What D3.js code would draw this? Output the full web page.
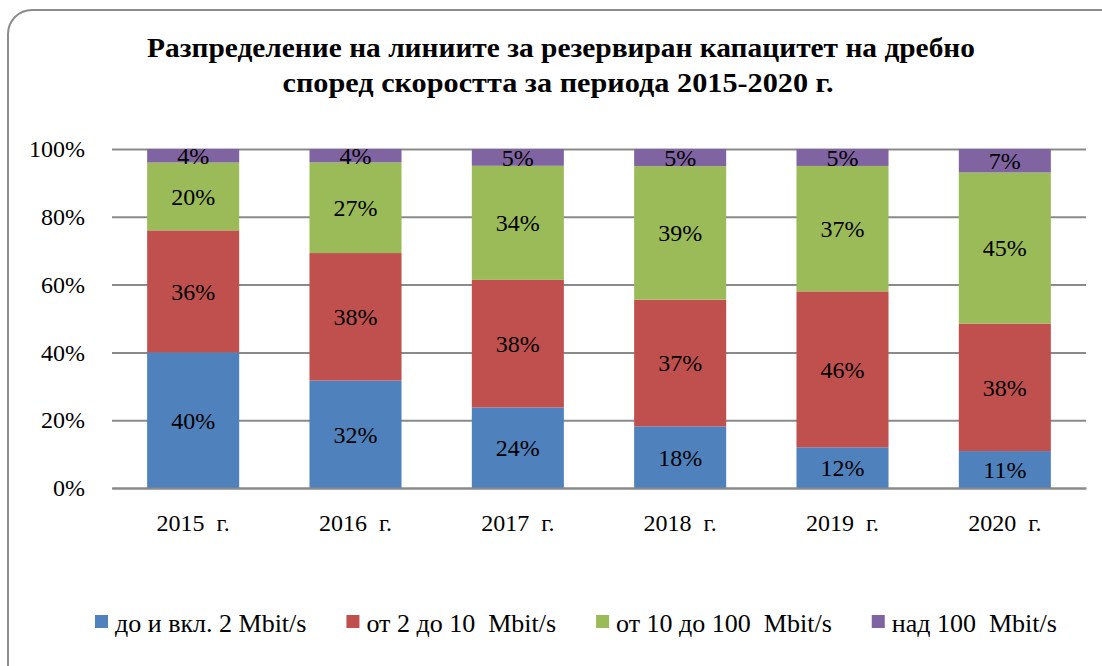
<html>
  <head>
    <script src="https://d3js.org/d3.v7.min.js"></script>
    <style>
      body { margin: 0; background: #fff; }
      text { font-family: "Liberation Serif", "Times New Roman", serif; fill: #000; }
      .gridlines line { stroke: #8a8a8a; stroke-width: 2; }
      .gridlines .domain { stroke: none; }
      .title { font-size: 28px; font-weight: bold; text-anchor: middle; }
    </style>
  </head>
  <body>
    <svg id="chart" width="1102" height="666"></svg>
    <script>
      // data (percent labels)
      const years = ["2015  г.", "2016  г.", "2017  г.", "2018  г.", "2019  г.", "2020  г."];
      const seriesNames = ["до и вкл. 2 Mbit/s", "от 2 до 10  Mbit/s", "от 10 до 100  Mbit/s", "над 100  Mbit/s"];
      const upTo2 = [40, 32, 24, 18, 12, 11];
      const from2to10 = [36, 38, 38, 37, 46, 38];
      const from10to100 = [20, 27, 34, 39, 37, 45];
      const over100 = [4, 4, 5, 5, 5, 7];
      const yTicks = [0, 0.2, 0.4, 0.6, 0.8, 1];
      const colors = ["#4f81bd", "#c0504d", "#9bbb59", "#8064a2"];

      const svg = d3.select("svg#chart");
      const margin = {top: 149, right: 16, bottom: 178, left: 112};
      const width = +svg.attr("width");
      const height = +svg.attr("height");
      const chartWidth = width - margin.left - margin.right;
      const chartHeight = height - margin.top - margin.bottom;

      // outer frame
      svg.append("rect")
        .attr("x", 8).attr("y", 10)
        .attr("width", 1120).attr("height", 690)
        .attr("rx", 24)
        .attr("fill", "none")
        .attr("stroke", "#8c8c8c")
        .attr("stroke-width", 2);

      // title
      const title = svg.append("text").attr("class", "title");
      title.append("tspan").attr("x", 561).attr("y", 57)
        .attr("textLength", 828).attr("lengthAdjust", "spacingAndGlyphs")
        .text("Разпределение на линиите за резервиран капацитет на дребно");
      title.append("tspan").attr("x", 558).attr("y", 92)
        .attr("textLength", 551).attr("lengthAdjust", "spacingAndGlyphs")
        .text("според скоростта за периода 2015-2020 г.");

      const table = years.map((y, i) => ({
        year: y,
        [seriesNames[0]]: upTo2[i],
        [seriesNames[1]]: from2to10[i],
        [seriesNames[2]]: from10to100[i],
        [seriesNames[3]]: over100[i]
      }));

      const stack = d3.stack().keys(seriesNames).offset(d3.stackOffsetExpand);
      const stacked = stack(table);

      const x = d3.scaleBand().domain(years).range([0, chartWidth]).paddingInner(0.433).paddingOuter(0.2165);
      const y = d3.scaleLinear().domain([0, 1]).range([chartHeight, 0]);
      const color = d3.scaleOrdinal().domain(seriesNames).range(colors);

      const g = svg.append("g").attr("transform", `translate(${margin.left},${margin.top})`);

      // gridlines + y tick labels
      const yAxis = d3.axisLeft(y)
        .tickValues(yTicks)
        .tickFormat(d3.format(".0%"))
        .tickSize(-chartWidth)
        .tickPadding(27);
      g.append("g").attr("class", "gridlines").call(yAxis)
        .selectAll("text").style("font-size", "24px");

      // bars
      const layers = g.selectAll(".layer")
        .data(stacked)
        .join("g")
        .attr("class", "layer")
        .attr("fill", d => color(d.key));

      layers.selectAll("rect")
        .data(d => d)
        .join("rect")
        .attr("x", d => x(d.data.year))
        .attr("y", d => y(d[1]))
        .attr("width", x.bandwidth())
        .attr("height", d => y(d[0]) - y(d[1]));

      // data labels
      stacked.forEach(layer => {
        g.selectAll(`.lbl-${layer.index}`)
          .data(layer)
          .join("text")
          .attr("class", `lbl-${layer.index}`)
          .attr("x", d => x(d.data.year) + x.bandwidth() / 2)
          .attr("y", d => (y(d[0]) + y(d[1])) / 2)
          .attr("dy", "0.35em")
          .attr("text-anchor", "middle")
          .style("font-size", "24px")
          .text(d => d.data[layer.key] + "%");
      });

      // x axis
      const xAxis = d3.axisBottom(x).tickSize(0).tickPadding(26);
      const xg = g.append("g").attr("transform", `translate(0,${chartHeight})`).call(xAxis);
      xg.select(".domain").attr("stroke", "#8a8a8a").attr("stroke-width", 2);
      xg.selectAll("text").style("font-size", "24px").style("white-space", "pre");

      // legend
      const legend = svg.append("g").attr("transform", "translate(95,615)");
      let lx = 0;
      seriesNames.forEach((name, i) => {
        const item = legend.append("g").attr("transform", `translate(${lx},0)`);
        item.append("rect").attr("width", 13).attr("height", 13).attr("fill", colors[i]);
        const t = item.append("text")
          .attr("x", 20).attr("y", 17)
          .style("font-size", "26px")
          .style("white-space", "pre")
          .text(name);
        lx += 20 + t.node().getComputedTextLength() + 40;
      });
    </script>
  </body>
</html>
